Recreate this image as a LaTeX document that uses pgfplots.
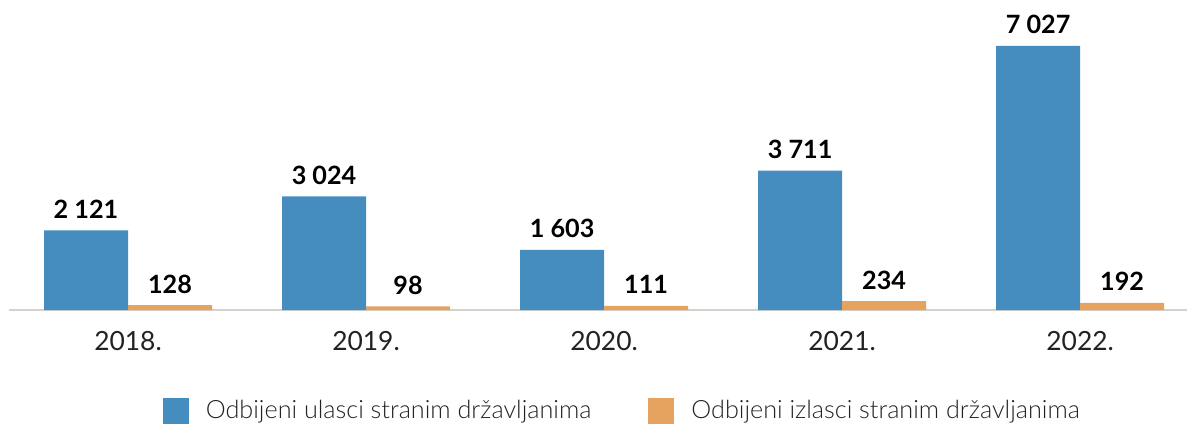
\documentclass[border=0pt]{standalone}
\usepackage{fontspec}
\setmainfont{Lato}
\newfontfamily\latolight{Lato Light}
\usepackage{pgfplots}
\pgfplotsset{compat=1.18}
\definecolor{cblue}{HTML}{468DBF}
\definecolor{corange}{HTML}{E6A35F}
\definecolor{caxis}{HTML}{D3D2CC}
\definecolor{ctext}{HTML}{222222}
\begin{document}
\begin{tikzpicture}
\useasboundingbox (0,0) rectangle (594pt,-211.5pt);
\begin{axis}[
  at={(4.5pt,-155pt)}, anchor=south west,
  scale only axis, width=589pt, height=155pt,
  xmin=-0.5, xmax=4.449, ymin=0, ymax=8251,
  axis y line=none, axis x line=bottom,
  x axis line style={color=caxis, line width=1pt, -},
  major tick length=0pt,
  xtick={0,1,2,3,4},
  xticklabels={2018.,2019.,2020.,2021.,2022.},
  xticklabel style={anchor=base, yshift=-20pt, font=\fontsize{13.2pt}{15pt}\selectfont, text=ctext, inner sep=0pt},
  ytick=\empty,
  ybar=0pt, bar width=42pt,
  clip=false,
  nodes near coords={\pgfmathprintnumber[fixed,precision=0,1000 sep={\ },assume math mode=true]{\pgfplotspointmeta}},
  nodes near coords style={anchor=base, yshift=6pt, inner sep=0pt, font=\fontsize{12.6pt}{15pt}\selectfont\bfseries, text=black},
  legend columns=2,
  legend style={at={(0.5215,-0.3258)}, anchor=center, draw=none, fill=none,
    font=\latolight\fontsize{12.6pt}{14pt}\selectfont, text=ctext,
    /tikz/every even column/.append style={column sep=26.5pt},
    /tikz/every odd column/.append style={column sep=0pt}},
  legend image code/.code={\fill[#1] (0pt,-6.5pt) rectangle (13pt,6.5pt);},
  legend cell align=left,
]
\addplot[fill=cblue, draw=none] coordinates {(0,2121) (1,3024) (2,1603) (3,3711) (4,7027)};
\addplot[fill=corange, draw=none] coordinates {(0,128) (1,98) (2,111) (3,234) (4,192)};
\legend{\hspace{6.5pt}Odbijeni ulasci stranim državljanima, \hspace{6.5pt}Odbijeni izlasci stranim državljanima}
\end{axis}
\end{tikzpicture}
\end{document}
